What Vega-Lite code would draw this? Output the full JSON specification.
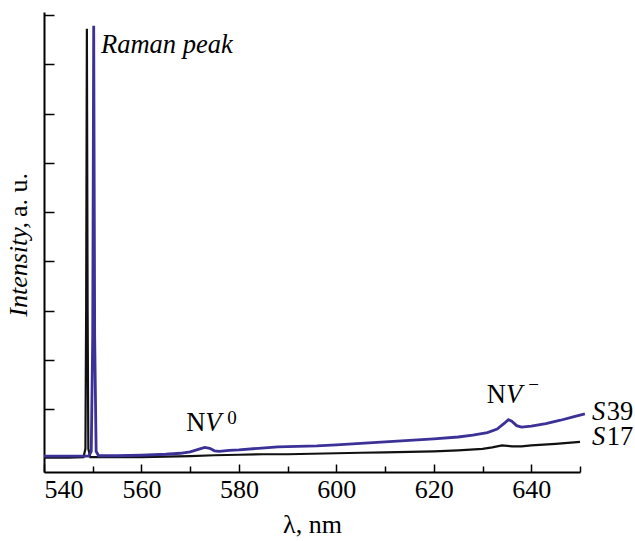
{
  "$schema": "https://vega.github.io/schema/vega-lite/v6.json",
  "width": 536,
  "height": 460,
  "autosize": {"type": "none"},
  "padding": {"left": 44, "top": 12, "right": 55, "bottom": 69},
  "background": "white",
  "config": {"view": {"stroke": null}, "font": "Liberation Serif"},
  "datasets": {
    "spec": [
      {"lambda": 540, "intensity": 0.02, "series": "S17"},
      {"lambda": 545, "intensity": 0.02, "series": "S17"},
      {"lambda": 548.1, "intensity": 0.03, "series": "S17"},
      {"lambda": 548.5, "intensity": 0.2, "series": "S17"},
      {"lambda": 548.65, "intensity": 3.0, "series": "S17"},
      {"lambda": 548.8, "intensity": 8.72, "series": "S17"},
      {"lambda": 548.95, "intensity": 3.0, "series": "S17"},
      {"lambda": 549.1, "intensity": 0.2, "series": "S17"},
      {"lambda": 549.5, "intensity": 0.03, "series": "S17"},
      {"lambda": 552, "intensity": 0.03, "series": "S17"},
      {"lambda": 556, "intensity": 0.03, "series": "S17"},
      {"lambda": 560, "intensity": 0.03, "series": "S17"},
      {"lambda": 565, "intensity": 0.04, "series": "S17"},
      {"lambda": 570, "intensity": 0.05, "series": "S17"},
      {"lambda": 575, "intensity": 0.07, "series": "S17"},
      {"lambda": 580, "intensity": 0.08, "series": "S17"},
      {"lambda": 585, "intensity": 0.09, "series": "S17"},
      {"lambda": 590, "intensity": 0.09, "series": "S17"},
      {"lambda": 595, "intensity": 0.1, "series": "S17"},
      {"lambda": 600, "intensity": 0.11, "series": "S17"},
      {"lambda": 605, "intensity": 0.12, "series": "S17"},
      {"lambda": 610, "intensity": 0.13, "series": "S17"},
      {"lambda": 615, "intensity": 0.14, "series": "S17"},
      {"lambda": 620, "intensity": 0.15, "series": "S17"},
      {"lambda": 625, "intensity": 0.17, "series": "S17"},
      {"lambda": 630, "intensity": 0.2, "series": "S17"},
      {"lambda": 632, "intensity": 0.23, "series": "S17"},
      {"lambda": 634, "intensity": 0.27, "series": "S17"},
      {"lambda": 636, "intensity": 0.25, "series": "S17"},
      {"lambda": 638, "intensity": 0.25, "series": "S17"},
      {"lambda": 640, "intensity": 0.27, "series": "S17"},
      {"lambda": 645, "intensity": 0.3, "series": "S17"},
      {"lambda": 650, "intensity": 0.34, "series": "S17"},
      {"lambda": 540, "intensity": 0.05, "series": "S39"},
      {"lambda": 545, "intensity": 0.05, "series": "S39"},
      {"lambda": 549.2, "intensity": 0.05, "series": "S39"},
      {"lambda": 549.7, "intensity": 0.15, "series": "S39"},
      {"lambda": 550.0, "intensity": 2.5, "series": "S39"},
      {"lambda": 550.2, "intensity": 8.78, "series": "S39"},
      {"lambda": 550.4, "intensity": 2.5, "series": "S39"},
      {"lambda": 550.7, "intensity": 0.15, "series": "S39"},
      {"lambda": 551.2, "intensity": 0.06, "series": "S39"},
      {"lambda": 555, "intensity": 0.06, "series": "S39"},
      {"lambda": 560, "intensity": 0.07, "series": "S39"},
      {"lambda": 565, "intensity": 0.09, "series": "S39"},
      {"lambda": 568, "intensity": 0.11, "series": "S39"},
      {"lambda": 570, "intensity": 0.14, "series": "S39"},
      {"lambda": 572, "intensity": 0.2, "series": "S39"},
      {"lambda": 573, "intensity": 0.23, "series": "S39"},
      {"lambda": 574, "intensity": 0.21, "series": "S39"},
      {"lambda": 575, "intensity": 0.16, "series": "S39"},
      {"lambda": 576, "intensity": 0.15, "series": "S39"},
      {"lambda": 578, "intensity": 0.17, "series": "S39"},
      {"lambda": 580, "intensity": 0.18, "series": "S39"},
      {"lambda": 584, "intensity": 0.21, "series": "S39"},
      {"lambda": 588, "intensity": 0.24, "series": "S39"},
      {"lambda": 592, "intensity": 0.25, "series": "S39"},
      {"lambda": 596, "intensity": 0.26, "series": "S39"},
      {"lambda": 600, "intensity": 0.28, "series": "S39"},
      {"lambda": 605, "intensity": 0.31, "series": "S39"},
      {"lambda": 610, "intensity": 0.34, "series": "S39"},
      {"lambda": 615, "intensity": 0.37, "series": "S39"},
      {"lambda": 620, "intensity": 0.4, "series": "S39"},
      {"lambda": 625, "intensity": 0.44, "series": "S39"},
      {"lambda": 628, "intensity": 0.48, "series": "S39"},
      {"lambda": 631, "intensity": 0.53, "series": "S39"},
      {"lambda": 633, "intensity": 0.6, "series": "S39"},
      {"lambda": 634.5, "intensity": 0.72, "series": "S39"},
      {"lambda": 635.3, "intensity": 0.79, "series": "S39"},
      {"lambda": 636, "intensity": 0.76, "series": "S39"},
      {"lambda": 637, "intensity": 0.67, "series": "S39"},
      {"lambda": 638, "intensity": 0.64, "series": "S39"},
      {"lambda": 640, "intensity": 0.66, "series": "S39"},
      {"lambda": 643, "intensity": 0.71, "series": "S39"},
      {"lambda": 646, "intensity": 0.78, "series": "S39"},
      {"lambda": 649, "intensity": 0.86, "series": "S39"},
      {"lambda": 651, "intensity": 0.91, "series": "S39"}
    ],
    "italicLeft": [
      {"x": 551.7, "y": 8.22, "label": "Raman peak"},
      {"x": 573.1, "y": 0.57, "label": "V"},
      {"x": 634.8, "y": 1.13, "label": "V"}
    ],
    "regularRight": [
      {"x": 573.1, "y": 0.57, "label": "N"},
      {"x": 634.8, "y": 1.13, "label": "N"}
    ],
    "italicRight": [
      {"x": 655.2, "y": 0.78, "label": "S"},
      {"x": 655.2, "y": 0.27, "label": "S"}
    ],
    "regularLeft": [
      {"x": 655.5, "y": 0.78, "label": "39"},
      {"x": 655.5, "y": 0.27, "label": "17"}
    ],
    "superscripts": [
      {"x": 577.6, "y": 0.71, "label": "0"},
      {"x": 639.4, "y": 1.38, "label": "−"}
    ],
    "ytitleItalic": [
      {"x": 534.8, "y": 2.88, "label": "Intensity,"}
    ],
    "ytitleRegular": [
      {"x": 534.8, "y": 4.9, "label": "a. u."}
    ]
  },
  "resolve": {"axis": {"x": "independent", "y": "independent"}},
  "layer": [
    {
      "data": {"name": "spec"},
      "transform": [{"filter": "datum.series === 'S17'"}],
      "mark": {"type": "line", "color": "#111111", "strokeWidth": 2.2, "clip": false},
      "encoding": {
        "x": {
          "field": "lambda", "type": "quantitative",
          "scale": {"domain": [540, 650], "nice": false, "zero": false},
          "axis": {
            "orient": "bottom",
            "values": [540, 560, 580, 600, 620, 640],
            "tickSize": -8, "tickWidth": 1.5, "tickColor": "black",
            "domainColor": "black", "domainWidth": 1.8,
            "labelFont": "Liberation Serif", "labelFontSize": 26, "labelColor": "black",
            "labelPadding": 12, "grid": false,
            "title": "λ, nm", "titleFont": "Liberation Serif", "titleFontSize": 26,
            "titleFontWeight": "normal", "titleColor": "black", "titlePadding": 9
          }
        },
        "y": {
          "field": "intensity", "type": "quantitative",
          "scale": {"domain": [-0.27, 9.06], "nice": false, "zero": false},
          "axis": {
            "values": [1, 2, 3, 4, 5, 6, 7, 8, 9],
            "labels": false, "tickSize": -10, "tickWidth": 1.5, "tickColor": "black",
            "domainColor": "black", "domainWidth": 2, "grid": false, "title": null
          }
        }
      }
    },
    {
      "data": {"name": "spec"},
      "transform": [{"filter": "datum.series === 'S39'"}],
      "mark": {"type": "line", "color": "#3b3197", "strokeWidth": 2.8, "clip": false},
      "encoding": {
        "x": {
          "field": "lambda", "type": "quantitative",
          "axis": {
            "orient": "bottom",
            "values": [550, 570, 590, 610, 630, 650],
            "tickSize": -6, "tickWidth": 1.5, "tickColor": "black",
            "domain": false, "labels": false, "grid": false, "title": null
          }
        },
        "y": {"field": "intensity", "type": "quantitative", "axis": null}
      }
    },
    {
      "mark": {"type": "rule", "color": "black", "strokeWidth": 1.8},
      "encoding": {"y": {"datum": 0, "axis": null}}
    },
    {
      "data": {"name": "italicLeft"},
      "mark": {"type": "text", "font": "Liberation Serif", "fontStyle": "italic", "fontSize": 26.5, "align": "left", "baseline": "alphabetic", "color": "black", "clip": false},
      "encoding": {
        "x": {"field": "x", "type": "quantitative", "axis": null},
        "y": {"field": "y", "type": "quantitative", "axis": null},
        "text": {"field": "label"}
      }
    },
    {
      "data": {"name": "regularRight"},
      "mark": {"type": "text", "font": "Liberation Serif", "fontSize": 26.5, "align": "right", "baseline": "alphabetic", "color": "black", "clip": false},
      "encoding": {
        "x": {"field": "x", "type": "quantitative", "axis": null},
        "y": {"field": "y", "type": "quantitative", "axis": null},
        "text": {"field": "label"}
      }
    },
    {
      "data": {"name": "italicRight"},
      "mark": {"type": "text", "font": "Liberation Serif", "fontStyle": "italic", "fontSize": 26.5, "align": "right", "baseline": "alphabetic", "color": "black", "clip": false},
      "encoding": {
        "x": {"field": "x", "type": "quantitative", "axis": null},
        "y": {"field": "y", "type": "quantitative", "axis": null},
        "text": {"field": "label"}
      }
    },
    {
      "data": {"name": "regularLeft"},
      "mark": {"type": "text", "font": "Liberation Serif", "fontSize": 26.5, "align": "left", "baseline": "alphabetic", "color": "black", "clip": false},
      "encoding": {
        "x": {"field": "x", "type": "quantitative", "axis": null},
        "y": {"field": "y", "type": "quantitative", "axis": null},
        "text": {"field": "label"}
      }
    },
    {
      "data": {"name": "superscripts"},
      "mark": {"type": "text", "font": "Liberation Serif", "fontSize": 19, "align": "left", "baseline": "alphabetic", "color": "black", "clip": false},
      "encoding": {
        "x": {"field": "x", "type": "quantitative", "axis": null},
        "y": {"field": "y", "type": "quantitative", "axis": null},
        "text": {"field": "label"}
      }
    },
    {
      "data": {"name": "ytitleItalic"},
      "mark": {"type": "text", "font": "Liberation Serif", "fontStyle": "italic", "fontSize": 26, "align": "left", "baseline": "middle", "angle": 270, "color": "black", "clip": false},
      "encoding": {
        "x": {"field": "x", "type": "quantitative", "axis": null},
        "y": {"field": "y", "type": "quantitative", "axis": null},
        "text": {"field": "label"}
      }
    },
    {
      "data": {"name": "ytitleRegular"},
      "mark": {"type": "text", "font": "Liberation Serif", "fontSize": 26, "align": "left", "baseline": "middle", "angle": 270, "color": "black", "clip": false},
      "encoding": {
        "x": {"field": "x", "type": "quantitative", "axis": null},
        "y": {"field": "y", "type": "quantitative", "axis": null},
        "text": {"field": "label"}
      }
    }
  ]
}
